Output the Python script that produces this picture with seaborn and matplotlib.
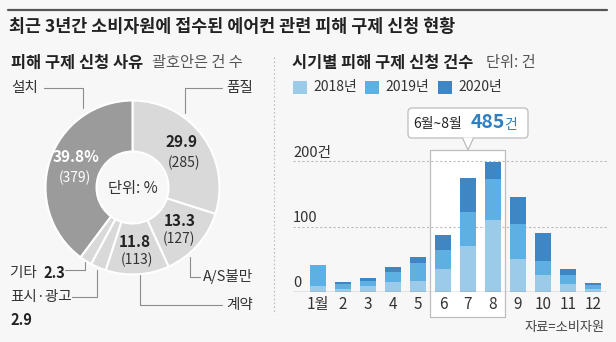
import matplotlib
matplotlib.use("Agg")
import matplotlib.pyplot as plt
import seaborn as sns
import numpy as np
import pandas as pd
from matplotlib.patches import FancyBboxPatch, Rectangle, Polygon
from matplotlib.lines import Line2D

# ---------------- data ----------------
title = "최근 3년간 소비자원에 접수된 에어컨 관련 피해 구제 신청 현황"

reasons = ["품질", "A/S불만", "계약", "표시·광고", "기타", "설치"]
shares = [29.9, 13.3, 11.8, 2.9, 2.3, 39.8]
counts = [285, 127, 113, None, None, 379]

months = ["1월", "2", "3", "4", "5", "6", "7", "8", "9", "10", "11", "12"]
y2018 = [9, 5, 9, 15, 17, 36, 71, 111, 51, 26, 13, 5]
y2019 = [32, 8, 8, 16, 28, 29, 51, 62, 53, 22, 13, 6]
y2020 = [0, 3, 4, 8, 8, 22, 52, 26, 42, 43, 10, 3]
years = ["2018년", "2019년", "2020년"]
grid_values = [100, 200]
ytick_values = [0, 100, 200]
ytick_labels = ["0", "100", "200건"]
summer_total = 485

# ---------------- style ----------------
sns.set_theme(style="white")
plt.rcParams["font.family"] = ["Noto Sans CJK KR", "DejaVu Sans"]

BG = "#f7f7f7"
C18, C19, C20 = "#9ccbea", "#5eafe2", "#3e87c4"
DARK_GRAY, LIGHT_GRAY = "#9b9b9b", "#d9d9d9"
LINE = "#8c8c8c"

W, H = 616, 342
fig = plt.figure(figsize=(W / 100, H / 100), dpi=100, facecolor=BG)

def rect_px(l, t, w, h):
    return [l / W, 1 - (t + h) / H, w / W, h / H]

# overlay axes in pixel coordinates (foreground)
fg = fig.add_axes([0, 0, 1, 1], zorder=10)
fg.set_xlim(0, W)
fg.set_ylim(H, 0)
fg.axis("off")
fg.patch.set_alpha(0)

# top rule and title
fg.add_line(Line2D([8, 607], [10, 10], color="#555555", lw=1.6))
fg.text(9, 27.5, title, fontsize=12.5, fontweight="bold", color="#222222",
        ha="left", va="center")

# subtitles
fg.text(11, 63, "피해 구제 신청 사유", fontsize=11.8, fontweight="bold",
        color="#222222", va="center")
fg.text(152, 63, "괄호안은 건 수", fontsize=11, color="#555555", va="center")
fg.text(292, 63, "시기별 피해 구제 신청 건수", fontsize=11.8, fontweight="bold",
        color="#222222", va="center")
fg.text(486, 63, "단위: 건", fontsize=11, color="#555555", va="center")

# dotted separator
fg.add_line(Line2D([274, 274], [57, 314], color="#bdbdbd", lw=0.8,
                   ls=(0, (1.5, 2))))

# ---------------- donut ----------------
cx, cy, R = 132.5, 187.5, 87
pax = fig.add_axes(rect_px(cx - R, cy - R, 2 * R, 2 * R), zorder=5)
pax.patch.set_alpha(0)
colors = [LIGHT_GRAY] * 5 + [DARK_GRAY]
pax.pie(shares, startangle=90, counterclock=False, colors=colors,
        radius=1.0, wedgeprops=dict(width=1 - 36 / 87, edgecolor="white",
                                    linewidth=1.5))
pax.set_xlim(-1, 1)
pax.set_ylim(-1, 1)
pax.set_aspect("equal")
pax.axis("off")

fg.text(76.5, 157, f"{shares[5]}%", fontsize=11, fontweight="bold", color="white",
        ha="center", va="center")
fg.text(75, 178, f"({counts[5]})", fontsize=10, color="white",
        ha="center", va="center")
fg.text(182, 142, f"{shares[0]}", fontsize=11, fontweight="bold", color="#222222",
        ha="center", va="center")
fg.text(184, 163, f"({counts[0]})", fontsize=10, color="#333333",
        ha="center", va="center")
fg.text(180, 221, f"{shares[1]}", fontsize=11, fontweight="bold", color="#222222",
        ha="center", va="center")
fg.text(179, 239, f"({counts[1]})", fontsize=10, color="#333333",
        ha="center", va="center")
fg.text(135, 242, f"{shares[2]}", fontsize=11, fontweight="bold", color="#222222",
        ha="center", va="center")
fg.text(137, 260, f"({counts[2]})", fontsize=10, color="#333333",
        ha="center", va="center")
fg.text(133, 188, "단위: %", fontsize=11, color="#333333", ha="center", va="center")

def leader(pts):
    xs, ys = zip(*pts)
    fg.add_line(Line2D(xs, ys, color=LINE, lw=0.8))

# 설치
fg.text(11, 88, reasons[5], fontsize=10.5, color="#333333", va="center")
leader([(44, 88), (83, 88), (83, 108)])
# 품질
fg.text(253, 88, reasons[0], fontsize=10.5, color="#333333", va="center", ha="right")
leader([(222, 88), (185, 88), (185, 113)])
# A/S불만
fg.text(253, 277, reasons[1], fontsize=10.5, color="#333333", va="center", ha="right")
leader([(200, 277), (190, 277), (190, 257)])
# 계약
fg.text(253, 305, reasons[2], fontsize=10.5, color="#333333", va="center", ha="right")
leader([(222, 305), (140, 305), (140, 275)])
# 기타
fg.text(10, 273, reasons[4] + " ", fontsize=10.5, color="#333333", va="center")
fg.text(43, 273, f"{shares[4]}", fontsize=10.5, fontweight="bold",
        color="#222222", va="center")
leader([(65, 270), (85, 270), (85, 262)])
# 표시·광고
fg.text(10, 297, reasons[3], fontsize=10.5, color="#333333", va="center")
fg.text(10, 320, f"{shares[3]}", fontsize=10.5, fontweight="bold",
        color="#222222", va="center")
leader([(72, 297), (97, 297), (97, 270)])

# ---------------- bars ----------------
PX_PER_UNIT = 0.6525
ax = fig.add_axes(rect_px(293, 140, 314, 152), zorder=5)
ax.patch.set_alpha(0)

df = pd.DataFrame({"month": months, "y2018": y2018, "y2019": y2019, "y2020": y2020})
df["c2019"] = df["y2018"] + df["y2019"]
df["c2020"] = df["c2019"] + df["y2020"]

for col, c in [("c2020", C20), ("c2019", C19), ("y2018", C18)]:
    sns.barplot(data=df, x="month", y=col, order=months, color=c, saturation=1,
                width=0.65, linewidth=0, ax=ax, zorder=3)

ax.set_xlim(-1.0, 11.56)
ax.set_ylim(0, 152 / PX_PER_UNIT)
for s in ax.spines.values():
    s.set_visible(False)
ax.set_xticks([])
ax.set_yticks([])
ax.set_xlabel("")
ax.set_ylabel("")

for g in grid_values:
    ax.axhline(g, color="#bdbdbd", lw=0.8, ls=(0, (2, 2)), zorder=1)
ax.axhline(0, color="#8c8c8c", lw=1.0, zorder=4)

for v, lab in zip(ytick_values, ytick_labels):
    ax.text(0.0, v + 13.5, lab, transform=ax.get_yaxis_transform(),
            fontsize=10.5, color="#333333", ha="left", va="center", clip_on=False)

for i, m in enumerate(months):
    ax.text(i, -19.5, m, fontsize=11, color="#333333", ha="center",
            va="center", clip_on=False)

# highlight of June-August
hl = Rectangle((4.48, -38.5), 3.0, 217.6 + 38.5, facecolor="white",
               edgecolor="#bdbdbd", lw=0.9, zorder=0.5, clip_on=False)
ax.add_patch(hl)

# callout
box = FancyBboxPatch((408, 108), 120, 30, boxstyle="round,pad=0,rounding_size=4",
                     facecolor="white", edgecolor="#bdbdbd", lw=0.9)
fg.add_patch(box)
fg.add_patch(Polygon([(462.5, 137.5), (473.5, 137.5), (468, 150)],
                     closed=True, facecolor="white", edgecolor="none"))
fg.add_line(Line2D([462.5, 468, 473.5], [138, 150, 138], color="#bdbdbd", lw=0.9))
fg.text(413, 124, "6월~8월", fontsize=10, color="#222222", ha="left", va="center")
fg.text(471, 123, f"{summer_total}", fontsize=14, fontweight="bold",
        color="#2f80c2", ha="left", va="center")
fg.text(504, 124.5, "건", fontsize=10, color="#2f80c2", ha="left", va="center")

# legend
lx = [293, 365, 438]
for x0, c, lab in zip(lx, [C18, C19, C20], years):
    fg.add_patch(Rectangle((x0, 81), 14, 13, facecolor=c, edgecolor="none"))
    fg.text(x0 + 20, 87.5, lab, fontsize=10, color="#333333", va="center")

# source
fg.text(605, 327, "자료=소비자원", fontsize=9.5, color="#444444", ha="right", va="center")

fig.savefig("out.png", dpi=100, facecolor=BG)
